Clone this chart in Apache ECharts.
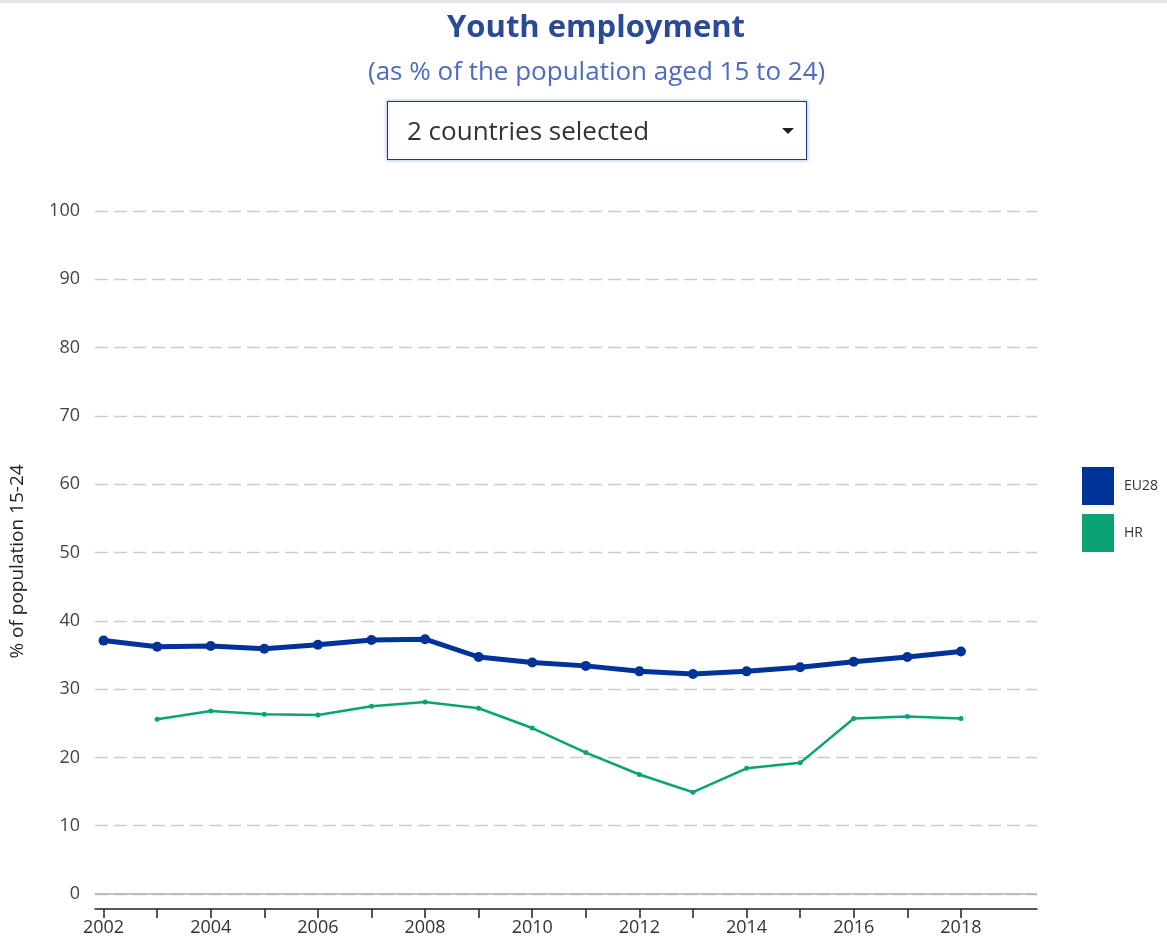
<!DOCTYPE html>
<html>
<head>
<meta charset="utf-8">
<script src="https://cdn.jsdelivr.net/npm/echarts@6/dist/echarts.min.js"></script>
<style>
  html, body { margin: 0; padding: 0; background: #fff; }
  #chart { width: 1167px; height: 942px; }
  #topbar { position: absolute; left: 0; top: 0; width: 1167px; height: 3px; background: #e3e4ea; }
  #dropdown {
    position: absolute; left: 387px; top: 101px; width: 399px; height: 57px;
    border: 1.5px solid #1d3a8a; box-shadow: 0 0 3px 1px #b8c8ec;
    font-family: "Open Sans", sans-serif; font-size: 26px; color: #333;
    line-height: 57px; padding-left: 19px; box-sizing: content-box; background: #fff;
  }
  #dropdown .caret {
    position: absolute; right: 12px; top: 26px; width: 0; height: 0;
    border-left: 6.5px solid transparent; border-right: 6.5px solid transparent; border-top: 6.5px solid #222;
  }
</style>
</head>
<body>
<div id="chart"></div>
<div id="topbar"></div>
<div id="dropdown">2 countries selected<span class="caret"></span></div>
<script>
const years = [2002,2003,2004,2005,2006,2007,2008,2009,2010,2011,2012,2013,2014,2015,2016,2017,2018];
const eu28 = [37.1,36.2,36.3,35.9,36.5,37.2,37.3,34.7,33.9,33.4,32.6,32.2,32.6,33.2,34.0,34.7,35.5];
const hr = [null,25.6,26.8,26.3,26.2,27.5,28.1,27.2,24.3,20.7,17.5,14.9,18.4,19.2,25.7,26.0,25.7];
const xTickYears = years;
const xLabelYears = [2002,2004,2006,2008,2010,2012,2014,2016,2018];

const chart = echarts.init(document.getElementById('chart'));
const font = '"Open Sans", sans-serif';
chart.setOption({
  animation: false,
  textStyle: { fontFamily: font },
  title: [
    { text: 'Youth employment', left: 442, top: 8,
      textStyle: { fontSize: 31, fontWeight: 'bold', color: '#2a4a98', fontFamily: font } },
    { text: '(as % of the population aged 15 to 24)', left: 363, top: 55,
      textStyle: { fontSize: 26, fontWeight: 'normal', color: '#4b6cc2', fontFamily: font } }
  ],
  legend: {
    orient: 'vertical', left: 1077, top: 462, itemWidth: 32, itemHeight: 38, itemGap: 9,
    icon: 'rect', textStyle: { fontSize: 14, color: '#333', fontFamily: font, padding: [0, 0, 0, 5] },
    data: ['EU28', 'HR']
  },
  grid: { left: 92, right: 130, top: 211, bottom: 48 },
  xAxis: {
    type: 'value', min: 2001.84, max: 2019.42, offset: 15,
    axisLine: { show: true, onZero: false, lineStyle: { color: '#222', width: 1.5 } },
    axisTick: { show: true, length: 9, customValues: xTickYears, lineStyle: { color: '#222', width: 1.5 } },
    axisLabel: { customValues: xLabelYears, formatter: v => String(v), fontSize: 18, color: '#333', margin: 10 },
    splitLine: { show: false }
  },
  yAxis: {
    type: 'value', min: 0, max: 100, interval: 10,
    name: '% of population 15-24', nameLocation: 'middle', nameGap: 68, nameRotate: 90,
    nameTextStyle: { fontSize: 19, color: '#222', padding: [0, 18, 0, 0] },
    axisLine: { show: false }, axisTick: { show: false },
    axisLabel: { fontSize: 18, color: '#444', margin: 15 },
    splitLine: { lineStyle: { color: '#cccccc', type: [13, 6], width: 1.3 } }
  },
  series: [
    { name: 'EU28', type: 'line', data: years.map((y, i) => [y, eu28[i]]),
      color: '#003399', lineStyle: { width: 5 }, symbol: 'circle', symbolSize: 10,
      z: 3,
      markLine: { silent: true, symbol: 'none', label: { show: false },
        lineStyle: { type: 'solid', color: '#b0b0b0', width: 1.5 }, data: [{ yAxis: 0 }] } },
    { name: 'HR', type: 'line', data: years.map((y, i) => [y, hr[i]]),
      color: '#0aa373', lineStyle: { width: 2.5 }, symbol: 'circle', symbolSize: 5, z: 2 }
  ]
});
</script>
</body>
</html>
